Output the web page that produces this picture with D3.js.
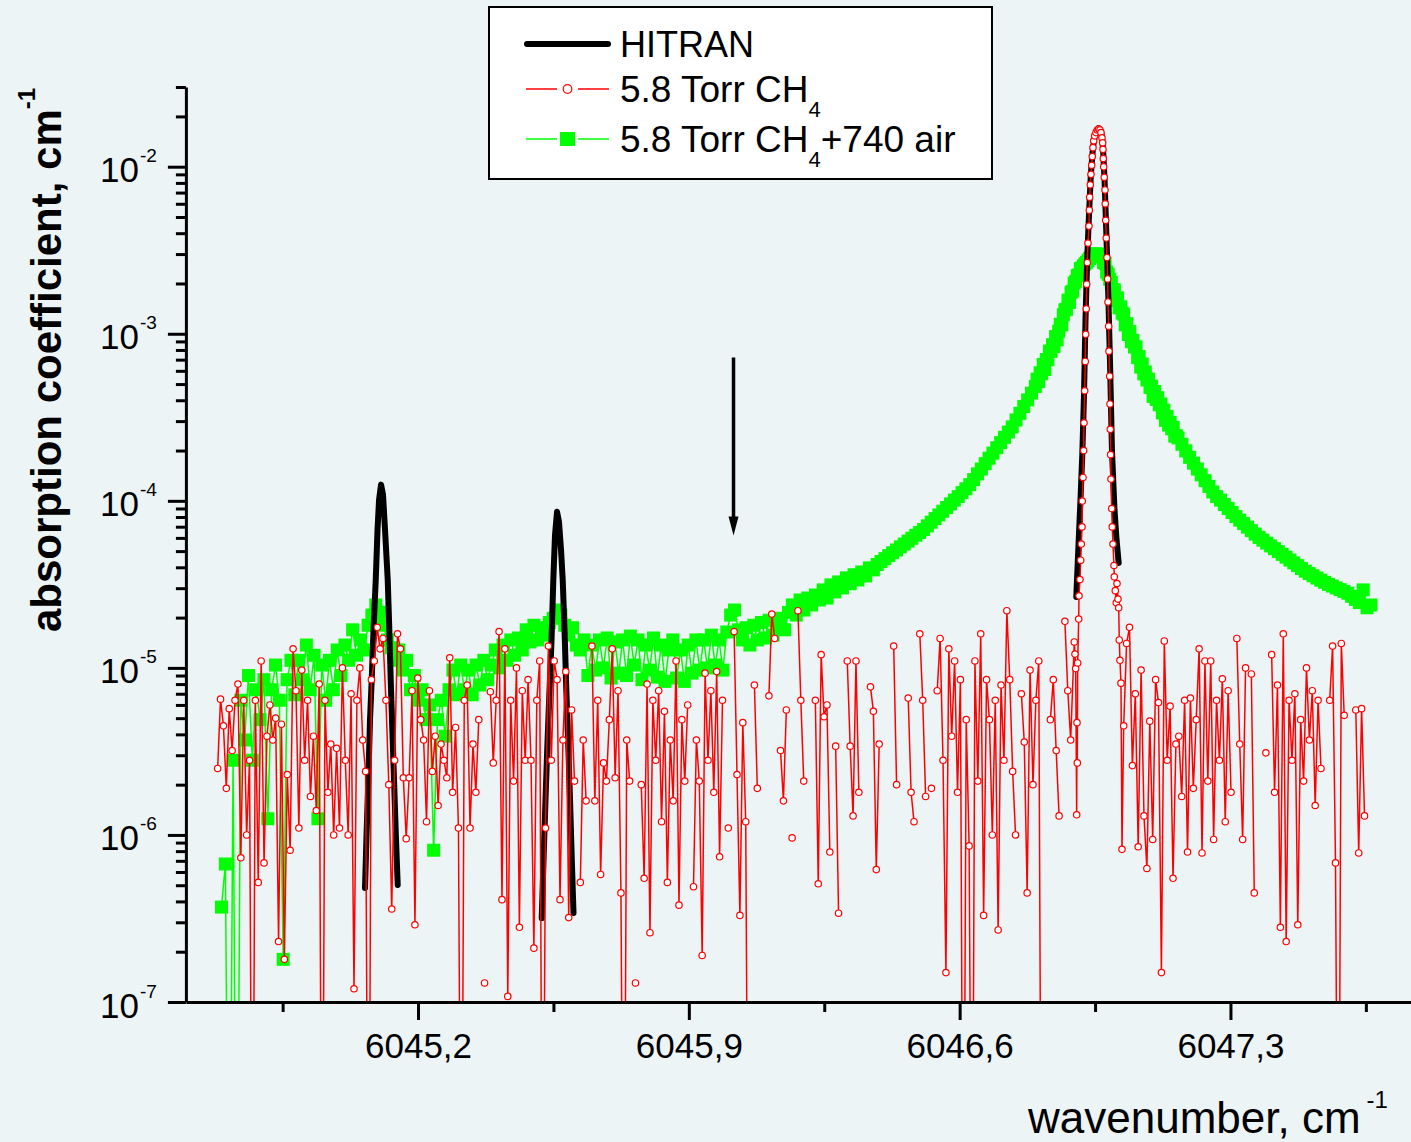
<!DOCTYPE html>
<html>
<head>
<meta charset="utf-8">
<script src="https://cdn.jsdelivr.net/npm/d3@7"></script>
<style>
  body { margin: 0; background: #ECF4F6; }
  svg { display: block; font-family: Arial, "Liberation Sans", sans-serif; }
</style>
</head>
<body>
<svg id="chart" width="1411" height="1142"></svg>
<script>
// ---------- axis ticks ----------
const xMajorTicks = [6045.2, 6045.9, 6046.6, 6047.3];
const xMinorTicks = [6044.85, 6045.55, 6046.25, 6046.95, 6047.65];
const yDecades = [1e-7, 1e-6, 1e-5, 1e-4, 1e-3, 1e-2];
const yMantissas = [2, 3, 4, 5, 6, 7, 8, 9];

// ---------- 5.8 Torr CH4 (red), measured on a fixed grid, null = negative value ----------
const redStart = 6044.682, redStep = 0.0075;
const redLeft = [
  2.5e-6, 6.5e-6, 4.5e-6, 1.9e-6, 5.7e-6, 3.2e-6, 6.4e-6, 8e-6, 7.3e-7, 6.4e-6, 1e-6, 2.8e-6, 1e-9, 6.4e-6, 5.2e-7, 1.1e-5, 6.8e-7, 3.9e-6, 6e-6, 3.7e-6,
  5e-6, 2.3e-7, 4.6e-6, 1.8e-7, 2.3e-6, 8.1e-7, 1.3e-5, 7.3e-6, 1.1e-6, 9.7e-6, 2.8e-6, 6.4e-6, 1.7e-6, 3.9e-6, 1.4e-6, 8e-6, 1e-9, 6.4e-6, 1.8e-6, 3.5e-6,
  1e-6, 3.3e-6, 1.1e-6, 1e-5, 2.8e-6, 1e-6, 7e-6, 1.2e-7, 6.4e-6, 1e-5, 3.7e-6, 2.4e-6, 1e-9, 8.5e-6, 1.1e-5, 1.75e-5, 1.3e-5, 1.5e-5, 6.4e-6, 2e-6,
  3.6e-7, 2.8e-6, 1.6e-5, 1.3e-5, 2.2e-6, 9.5e-7, 2.2e-6, 7.3e-6, 2.9e-7, 8.7e-6, 4.9e-6, 3.7e-6, 1.2e-6, 7.3e-6, 2.4e-6, 3.9e-6, 1.5e-6, 3.5e-6, 2.8e-6, 2.2e-6,
  1.15e-5, 1.8e-6, 4.4e-6, 1.1e-6, 1e-9, 6.4e-6, 7.9e-6, 1.1e-6, 3.5e-6, 1.8e-6, 4.9e-6, null, 1.3e-7, null, 7.2e-6, 2.7e-6, 6.4e-6, 1.65e-5, 4.1e-7, 1.3e-5,
  1.08e-7, 6.4e-6, 2.1e-6, 1e-5, 2.8e-7, 7.3e-6, 2.8e-6, 8.5e-6, 2.8e-6, 2.1e-7, 6.4e-6, 1.1e-5, 1e-9, 1.1e-6, 1.35e-5, 2.8e-6, 1.1e-5, 8.5e-6, 4.1e-7, 3.7e-6,
  9.5e-6, 3.2e-7, 5.6e-6, 2.1e-6, null, 5.2e-7, 3.7e-6, 1.6e-6, null, 1.35e-5, 1.6e-6, 6.4e-6, 5.8e-7, 2.7e-6, 2.1e-6, 4.9e-6, 1.3e-5, 2.2e-6, 7.3e-6, 4.5e-7,
  1e-9, 3.7e-6, 2.1e-6, null, 1.3e-7, null, 2e-6, 5.5e-7, 8e-6, 2.6e-7, 6.4e-6, 2.8e-6, 7.3e-6, 1.2e-6, 5.5e-6, 5.2e-7, 3.7e-6, 1.6e-6, 1.1e-5, 3.8e-7,
  4.9e-6, 2.1e-6, 6e-6, null, 4.9e-7, 3.7e-6, 2.1e-6, 1.9e-7, 9.3e-6, 2.8e-6, 7.3e-6, 1.8e-6, 9.5e-6, 7.4e-7, 6.4e-6, null, 1.1e-6, null, 1.65e-5, 2.3e-6,
  3.3e-7, 4.7e-6, 1.2e-6, 1e-9, null, 7.9e-6, 1.9e-6, null, null, null, 6.8e-6, 2.1e-5, 1.5e-5, null, 3.2e-6, 1.6e-6, 5.6e-6, null, 9.6e-7, null,
  2.2e-5, 6.4e-6, 2.1e-6, null, null, null, 6.4e-6, 5.1e-7, 1.2e-5, 5.1e-6, 6e-6, 7.9e-7, null, 3.4e-6, 3.4e-7, null, null, 1.1e-5, 3.4e-6, 1.3e-6,
  1.1e-5, 1.8e-6, null, null, null, 7.7e-6, 5.5e-6, 6.2e-7, 3.5e-6, null, null, null, null, 1.35e-5, 2e-6, null, null, null, 6.6e-6, 1.8e-6,
  1.2e-6, null, 1.6e-5, 6.4e-6, 1.7e-6, null, 1.9e-6, null, 7.3e-6, 1.5e-5, 2.8e-6, 1.5e-7, 1.3e-5, 3.9e-6, 1.1e-5, 1.8e-6, 8.5e-6, 1e-9, 4.9e-6, 8.6e-7,
  1e-9, 1.1e-5, 2.1e-6, 1.6e-5, 3.3e-7, 8.5e-6, 4.9e-6, 1e-6, 6.4e-6, 2.7e-7, 7.9e-6, 2.8e-6, 2.2e-5, 8.5e-6, 2.4e-6, 1e-6, null, 7e-6, 3.6e-6, 4.5e-7,
  9.7e-6, 2e-6, 6.4e-6, 1.1e-5, 1e-9, null, null, 4.9e-6, 8.5e-6, 3.2e-6, 1.3e-6, null, 1.9e-5, 7.3e-6, 3.7e-6
];
// the strong line, read point by point
const redPeak = [
  [6046.8963, 1.43e-5], [6046.8981, 1.21e-5], [6046.8999, 9.9e-6], [6046.9025, 1.32e-6], [6046.9033, 4.7e-6],
  [6046.9041, 2.7e-6], [6046.9051, 1.07e-5], [6046.9077, 1.96e-5], [6046.9085, 2.7e-5], [6046.9110, 3.38e-5],
  [6046.9129, 4.41e-5], [6046.9144, 5.51e-5], [6046.9162, 6.98e-5], [6046.9170, 9.97e-5], [6046.9188, 1.38e-4],
  [6046.9206, 2.0e-4], [6046.9214, 2.93e-4], [6046.9232, 4.56e-4], [6046.9247, 6.83e-4], [6046.9258, 9.93e-4],
  [6046.9273, 1.41e-3], [6046.9284, 1.98e-3], [6046.9299, 2.67e-3], [6046.9317, 3.49e-3], [6046.9343, 4.41e-3],
  [6046.9351, 5.49e-3], [6046.9361, 6.57e-3], [6046.9377, 7.79e-3], [6046.9395, 9.0e-3], [6046.9413, 1.02e-2],
  [6046.9428, 1.15e-2], [6046.9446, 1.30e-2], [6046.9465, 1.43e-2], [6046.9490, 1.53e-2], [6046.9524, 1.60e-2],
  [6046.9558, 1.66e-2], [6046.9594, 1.68e-2], [6046.9627, 1.66e-2], [6046.9653, 1.60e-2], [6046.9679, 1.49e-2],
  [6046.9697, 1.39e-2], [6046.9705, 1.27e-2], [6046.9713, 1.12e-2], [6046.9723, 9.98e-3], [6046.9738, 8.65e-3],
  [6046.9757, 7.26e-3], [6046.9764, 6.0e-3], [6046.9775, 4.78e-3], [6046.9790, 3.74e-3], [6046.9808, 2.86e-3],
  [6046.9826, 2.13e-3], [6046.9834, 1.55e-3], [6046.9852, 1.11e-3], [6046.9860, 7.87e-4], [6046.9878, 5.57e-4],
  [6046.9886, 3.8e-4], [6046.9894, 2.68e-4], [6046.9904, 1.89e-4], [6046.9912, 1.35e-4], [6046.9930, 8.99e-5],
  [6046.9945, 6.98e-5], [6046.9963, 5.51e-5], [6046.9989, 4.1e-5], [6046.9997, 3.51e-5], [6047.0023, 2.9e-5],
  [6047.0049, 2.45e-5], [6047.0067, 3.2e-5], [6047.0093, 2.58e-5], [6047.0111, 2.29e-5], [6047.0126, 1.47e-5],
  [6047.0144, 1.11e-5], [6047.0170, 8.1e-6], [6047.0196, 8.2e-7]
];
const redRightStart = 6047.024;
const redRight = [
  4.5e-6, 1.4e-5, 1.75e-5, 2.6e-6, 7e-6, 8.5e-7, 9.7e-6, 1.3e-6, 6.3e-7, 4.8e-6,
  9.4e-7, 8.5e-6, 6.2e-6, 1.5e-7, 1.45e-5, 2.8e-6, 5.9e-6, 5.5e-7, 3.5e-6, 3.9e-6,
  1.7e-6, 6.4e-6, 7.9e-7, 6.6e-6, 1.9e-6, 4.9e-6, 1.3e-5, 7.8e-7, 1.1e-5, 2.1e-6,
  1.1e-5, 9.4e-7, 6.4e-6, 2.8e-6, 8.6e-6, 1.2e-6, 7.3e-6, 1.8e-6, null, 1.5e-5,
  3.5e-6, 9.4e-7, 1e-5, null, 9.2e-6, 4.5e-7, null, null, null, 3.1e-6,
  null, 1.2e-5, 1.8e-6, 7.9e-6, 2.8e-7, 1.6e-5, 2.3e-7, 6.4e-6, 2.8e-6, 7e-6,
  2.9e-7, 4.9e-6, 2.1e-6, 1e-5, 3.7e-6, 7.3e-6, 1.5e-6, 6.4e-6, 2.5e-6, null,
  null, 6.4e-6, 1.35e-5, 6.8e-7, 1e-9, 1.4e-5, 5.2e-6, null, null, null,
  5.6e-6, 7.8e-7, 5.7e-6, 1.3e-6
];

// ---------- 5.8 Torr CH4 + 740 air (green) ----------
const greenStart = 6044.692, greenStep = 0.00997;
const green = [
  3.7e-7, 6.7e-7, 1e-9, 2.8e-6, 1e-9, 6.4e-6, 3.7e-6, 9.0e-6, 2.8e-6, 7.4e-6,
  4.9e-6, 8.5e-6, 1.25e-6, 7.4e-6, 1.04e-5, 6.4e-6, 1.8e-7, 8.5e-6, 1.11e-5, 6.9e-6,
  1.11e-5, 8.5e-6, 1.37e-5, 7.4e-6, 1.19e-5, 1.25e-6, 1.04e-5, 6.4e-6, 1.11e-5, 7.4e-6,
  1.28e-5, 9.0e-6, 1.37e-5, 1.11e-5, 1.69e-5, 1.19e-5, 1.47e-5, 1.28e-5, 1.80e-5, 2.07e-5,
  2.38e-5, 2.15e-5, 1.80e-5, 1.47e-5, 1.32e-5, 1.11e-5, 1.28e-5, 9.7e-6, 1.11e-5, 7.4e-6,
  9.0e-6, 6.4e-6, 7.4e-6, 4.9e-6, 6.0e-6, 8.1e-7, 4.9e-6, 6.4e-6, 3.9e-6, 7.4e-6,
  9.7e-6, 6.9e-6, 1.04e-5, 7.4e-6, 9.7e-6, 6.9e-6, 1.04e-5, 7.9e-6, 1.11e-5, 8.5e-6,
  1.04e-5, 1.28e-5, 1.0e-5, 1.37e-5, 1.11e-5, 1.47e-5, 1.19e-5, 1.51e-5, 1.28e-5, 1.69e-5,
  1.43e-5, 1.80e-5, 1.47e-5, 1.74e-5, 1.57e-5, 1.87e-5, 1.98e-5, 2.22e-5, 2.07e-5, 1.80e-5,
  1.57e-5, 1.74e-5, 1.37e-5, 1.28e-5, 1.47e-5, 9.0e-6, 1.37e-5, 9.7e-6, 1.47e-5, 1.0e-5,
  1.51e-5, 8.7e-6, 1.43e-5, 9.3e-6, 1.47e-5, 9.0e-6, 1.55e-5, 1.04e-5, 1.47e-5, 8.5e-6,
  1.37e-5, 9.7e-6, 1.51e-5, 8.8e-6, 1.37e-5, 8.3e-6, 1.28e-5, 1.47e-5, 8.7e-6, 1.28e-5,
  8.3e-6, 1.37e-5, 9.3e-6, 1.47e-5, 9.7e-6, 1.47e-5, 1.0e-5, 1.57e-5, 1.04e-5, 1.47e-5,
  9.7e-6, 1.64e-5, 2.07e-5, 2.22e-5, 1.69e-5, 1.47e-5, 1.74e-5, 1.37e-5, 1.80e-5, 1.47e-5,
  1.87e-5, 1.51e-5, 1.93e-5, 1.57e-5, 1.80e-5, 1.98e-5, 1.69e-5, 2.15e-5, 2.38e-5, 2.07e-5,
  2.55e-5, 2.22e-5, 2.62e-5, 2.38e-5, 2.73e-5, 2.55e-5, 2.93e-5, 2.62e-5, 3.14e-5, 2.85e-5,
  3.27e-5, 3.01e-5, 3.46e-5, 3.19e-5, 3.61e-5, 3.36e-5, 3.75e-5, 3.55e-5, 3.97e-5, 3.86e-5,
  4.16e-5, 4.33e-5, 4.51e-5, 4.70e-5, 4.89e-5, 5.08e-5, 5.30e-5, 5.51e-5, 5.74e-5, 5.97e-5,
  6.22e-5, 6.47e-5, 6.73e-5, 7.08e-5, 7.45e-5, 7.83e-5, 8.24e-5, 8.67e-5, 9.12e-5, 9.59e-5,
  1.01e-4, 1.06e-4, 1.12e-4, 1.18e-4, 1.25e-4, 1.34e-4, 1.45e-4, 1.55e-4, 1.67e-4, 1.80e-4,
  1.93e-4, 2.08e-4, 2.23e-4, 2.40e-4, 2.58e-4, 2.77e-4, 3.05e-4, 3.34e-4, 3.67e-4, 4.02e-4,
  4.41e-4, 4.84e-4, 5.46e-4, 6.16e-4, 6.94e-4, 7.85e-4, 8.83e-4, 1.01e-3, 1.20e-3, 1.41e-3,
  1.66e-3, 1.91e-3, 2.21e-3, 2.47e-3, 2.63e-3, 2.79e-3, 2.97e-3, 3.01e-3, 2.93e-3, 2.66e-3,
  2.22e-3, 1.92e-3, 1.67e-3, 1.45e-3, 1.25e-3, 1.08e-3, 9.33e-4, 8.17e-4, 7.09e-4, 6.16e-4,
  5.38e-4, 4.83e-4, 4.35e-4, 3.90e-4, 3.52e-4, 3.16e-4, 2.85e-4, 2.60e-4, 2.38e-4, 2.18e-4,
  1.99e-4, 1.82e-4, 1.68e-4, 1.55e-4, 1.43e-4, 1.32e-4, 1.22e-4, 1.13e-4, 1.06e-4, 1.01e-4,
  9.50e-5, 8.99e-5, 8.51e-5, 8.05e-5, 7.66e-5, 7.31e-5, 6.96e-5, 6.63e-5, 6.32e-5, 6.04e-5,
  5.81e-5, 5.58e-5, 5.37e-5, 5.17e-5, 4.97e-5, 4.78e-5, 4.60e-5, 4.42e-5, 4.25e-5, 4.09e-5,
  3.93e-5, 3.79e-5, 3.67e-5, 3.56e-5, 3.45e-5, 3.35e-5, 3.25e-5, 3.16e-5, 3.09e-5, 3.01e-5,
  2.94e-5, 2.87e-5, 2.80e-5, 2.68e-5, 2.57e-5, 2.46e-5, 2.93e-5, 2.29e-5, 2.38e-5
];
// finer sampling across the broadened line
const greenDenseStart = 6046.80, greenDenseStep = 0.004;
const greenDense = [
  5.35e-4, 5.17e-4, 5.84e-4, 5.76e-4, 6.55e-4, 6.11e-4, 7.01e-4, 6.99e-4, 7.88e-4, 7.84e-4,
  8.60e-4, 8.40e-4, 9.62e-4, 9.21e-4, 1.035e-3, 1.14e-3, 1.13e-3, 1.30e-3, 1.39e-3, 1.40e-3,
  1.59e-3, 1.54e-3, 1.77e-3, 1.80e-3, 2.01e-3, 2.06e-3, 2.23e-3, 2.25e-3, 2.45e-3, 2.48e-3,
  2.55e-3, 2.62e-3, 2.68e-3, 2.75e-3, 2.82e-3, 2.89e-3, 2.96e-3, 2.99e-3, 3.01e-3, 3.00e-3,
  2.97e-3, 2.91e-3, 2.89e-3, 2.67e-3, 2.64e-3, 2.34e-3, 2.27e-3, 2.12e-3, 2.03e-3, 1.84e-3,
  1.83e-3, 1.58e-3, 1.64e-3, 1.43e-3, 1.45e-3, 1.33e-3, 1.31e-3, 1.13e-3, 1.15e-3, 9.9e-4,
  1.03e-3, 8.96e-4, 9.13e-4, 8.34e-4, 8.33e-4, 7.19e-4, 7.30e-4, 6.32e-4, 6.59e-4, 5.75e-4,
  5.90e-4, 5.29e-4, 5.35e-4, 4.77e-4, 4.86e-4, 4.22e-4, 4.51e-4, 4.04e-4, 4.14e-4, 3.76e-4,
  3.80e-4, 3.36e-4, 3.49e-4, 3.03e-4, 3.20e-4, 2.84e-4, 2.95e-4, 2.70e-4, 2.75e-4, 2.44e-4,
  2.45e-4
];

// ---------- HITRAN line profiles ----------
const hitran1 = [
  [6045.0630, 4.82e-7], [6045.0669, 1.0e-6], [6045.0715, 2.13e-6], [6045.0759, 4.89e-6], [6045.0803, 8.48e-6],
  [6045.0850, 1.69e-5], [6045.0907, 3.36e-5], [6045.0953, 6.7e-5], [6045.0992, 1.01e-4], [6045.1044, 1.25e-4],
  [6045.1095, 1.09e-4], [6045.1147, 6.7e-5], [6045.1217, 3.36e-5], [6045.1258, 1.69e-5], [6045.1294, 8.48e-6],
  [6045.1336, 4.26e-6], [6045.1380, 2.13e-6], [6045.1426, 1.0e-6], [6045.1475, 5.02e-7]
];
const hitran2 = [
  [6045.5197, 3.18e-7], [6045.5244, 7.08e-7], [6045.5295, 1.62e-6], [6045.5342, 3.37e-6], [6045.5399, 7.39e-6],
  [6045.5451, 1.47e-5], [6045.5497, 3.36e-5], [6045.5541, 6.25e-5], [6045.5593, 8.59e-5], [6045.5644, 7.48e-5],
  [6045.5696, 5.09e-5], [6045.5740, 3.36e-5], [6045.5787, 1.69e-5], [6045.5833, 7.39e-6], [6045.5885, 3.37e-6],
  [6045.5929, 1.62e-6], [6045.5975, 7.08e-7], [6045.6019, 3.41e-7]
];
const hitran3 = [
  [6046.9015, 2.66e-5], [6046.9072, 5.45e-5], [6046.9123, 1.01e-4], [6046.9170, 1.89e-4], [6046.9214, 4.3e-4],
  [6046.9253, 1.21e-3], [6046.9296, 2.77e-3], [6046.9338, 4.8e-3], [6046.9390, 8.9e-3], [6046.9446, 1.30e-2],
  [6046.9498, 1.56e-2], [6046.9589, 1.70e-2], [6046.9666, 1.59e-2], [6046.9705, 1.30e-2], [6046.9746, 8.3e-3],
  [6046.9790, 4.1e-3], [6046.9842, 1.71e-3], [6046.9891, 6.1e-4], [6046.9937, 2.0e-4], [6047.0002, 8.9e-5],
  [6047.0054, 5.9e-5], [6047.0111, 4.25e-5]
];

// ---------- arrow annotation ----------
const arrowX = 6046.0155, arrowTop = 7.2e-4, arrowTip = 6.2e-5;

// ---------- build ----------
const redSeries = redLeft.map((v, i) => [redStart + i * redStep, v])
  .concat(redPeak)
  .concat(redRight.map((v, i) => [redRightStart + i * redStep, v]));

const denseEnd = greenDenseStart + (greenDense.length - 1) * greenDenseStep;
const greenSeries = green.map((v, i) => [greenStart + i * greenStep, v])
  .filter(d => d[0] < greenDenseStart - 0.002 || d[0] > denseEnd + 0.002)
  .concat(greenDense.map((v, i) => [greenDenseStart + i * greenDenseStep, v]))
  .sort((a, b) => a[0] - b[0]);

const yMinorTicks = [];
yDecades.forEach(d => yMantissas.forEach(m => { if (d * m <= 3.0001e-2) yMinorTicks.push(d * m); }));

const svg = d3.select("#chart");
const x = d3.scaleLinear().domain([6044.6, 6047.8]).range([185.9, 1423.9]);
const y = d3.scaleLog().domain([1e-7, 3e-2]).range([1002, 87]);

svg.append("defs").append("clipPath").attr("id", "plot")
  .append("rect").attr("x", 186).attr("y", 60).attr("width", 1300).attr("height", 942);

const line = d3.line().defined(d => d[1] != null).x(d => x(d[0])).y(d => y(d[1]));
const plot = svg.append("g").attr("clip-path", "url(#plot)");

// green
const sq = 13;
plot.append("path").datum(greenSeries).attr("d", line)
  .attr("fill", "none").attr("stroke", "#00FF00").attr("stroke-width", 1.5);
plot.append("g").selectAll("rect").data(greenSeries.filter(d => d[1] != null)).join("rect")
  .attr("x", d => x(d[0]) - sq / 2).attr("y", d => y(d[1]) - sq / 2)
  .attr("width", sq).attr("height", sq).attr("fill", "#00FF00");

// HITRAN
[hitran1, hitran2, hitran3].forEach(h => {
  plot.append("path").datum(h).attr("d", line)
    .attr("fill", "none").attr("stroke", "#000").attr("stroke-width", 6)
    .attr("stroke-linejoin", "round").attr("stroke-linecap", "round");
});

// red
plot.append("path").datum(redSeries).attr("d", line)
  .attr("fill", "none").attr("stroke", "#FF0000").attr("stroke-width", 1.5);
plot.append("g").selectAll("circle").data(redSeries.filter(d => d[1] != null)).join("circle")
  .attr("cx", d => x(d[0])).attr("cy", d => y(d[1])).attr("r", 3.2)
  .attr("fill", "#fff").attr("stroke", "#FF0000").attr("stroke-width", 1.2);

// ---------- axes ----------
function styleAxis(g) {
  g.select(".domain").attr("stroke", "#000").attr("stroke-width", 3);
  g.selectAll(".tick line").attr("stroke", "#000").attr("stroke-width", 3);
}

const xAxisG = svg.append("g").attr("transform", "translate(0,1002)")
  .call(d3.axisBottom(x).tickValues(xMajorTicks).tickSize(18).tickSizeOuter(0)
    .tickFormat(d => d.toFixed(1).replace(".", ",")));
styleAxis(xAxisG);
xAxisG.selectAll(".tick text").attr("y", 56).attr("dy", null)
  .attr("font-size", 35).attr("fill", "#000").attr("font-family", "Arial, 'Liberation Sans', sans-serif");
const xMinorG = svg.append("g").attr("transform", "translate(0,1002)")
  .call(d3.axisBottom(x).tickValues(xMinorTicks).tickSize(10).tickFormat(""));
styleAxis(xMinorG);
xMinorG.select(".domain").remove();

const y0 = x.range()[0];
const yAxisG = svg.append("g").attr("transform", `translate(${y0},0)`)
  .call(d3.axisLeft(y).tickValues(yDecades).tickSize(18).tickSizeOuter(0).tickFormat(""));
styleAxis(yAxisG);
yAxisG.selectAll(".tick text").remove();
yAxisG.selectAll(".tick").each(function(d) {
  const t = d3.select(this);
  t.append("text").attr("x", -47).attr("y", 15).attr("text-anchor", "end")
    .attr("font-size", 35).attr("fill", "#000").text("10");
  t.append("text").attr("x", -46).attr("y", -5).attr("text-anchor", "start")
    .attr("font-size", 19).attr("fill", "#000").text(Math.round(Math.log10(d)));
});
const yMinorG = svg.append("g").attr("transform", `translate(${y0},0)`)
  .call(d3.axisLeft(y).tickValues(yMinorTicks).tickSize(10).tickFormat(""));
styleAxis(yMinorG);
yMinorG.select(".domain").remove();

// axis titles
const yTitle = svg.append("text").attr("transform", "translate(61,632) rotate(-90)")
  .attr("font-size", 42).attr("font-weight", "bold").attr("fill", "#000");
yTitle.append("tspan").text("absorption coefficient, cm");
yTitle.append("tspan").attr("dy", -26).attr("font-size", 24).text("-1");

const xTitle = svg.append("text").attr("x", 1028).attr("y", 1133)
  .attr("font-size", 44).attr("fill", "#000");
xTitle.append("tspan").text("wavenumber, cm");
xTitle.append("tspan").attr("dx", 6).attr("dy", -25).attr("font-size", 24).text("-1");

// arrow
const ax = x(arrowX), ayTop = y(arrowTop), ayTip = y(arrowTip);
svg.append("line").attr("x1", ax).attr("x2", ax).attr("y1", ayTop).attr("y2", ayTip - 14)
  .attr("stroke", "#000").attr("stroke-width", 3.5);
svg.append("path").attr("d", `M${ax - 5},${ayTip - 19}L${ax + 5},${ayTip - 19}L${ax},${ayTip}Z`)
  .attr("fill", "#000");

// ---------- legend ----------
const lg = svg.append("g");
lg.append("rect").attr("x", 489).attr("y", 7).attr("width", 503).attr("height", 172)
  .attr("fill", "#fff").attr("stroke", "#000").attr("stroke-width", 2);

lg.append("line").attr("x1", 527).attr("x2", 608).attr("y1", 44).attr("y2", 44)
  .attr("stroke", "#000").attr("stroke-width", 6).attr("stroke-linecap", "round");
lg.append("text").attr("x", 620).attr("y", 57).attr("font-size", 36).text("HITRAN");

[[526, 557], [578, 609]].forEach(s => {
  lg.append("line").attr("x1", s[0]).attr("x2", s[1]).attr("y1", 89).attr("y2", 89)
    .attr("stroke", "#FF0000").attr("stroke-width", 1.5);
  lg.append("line").attr("x1", s[0]).attr("x2", s[1]).attr("y1", 139).attr("y2", 139)
    .attr("stroke", "#00FF00").attr("stroke-width", 1.5);
});
lg.append("circle").attr("cx", 567.5).attr("cy", 89).attr("r", 4.3)
  .attr("fill", "#fff").attr("stroke", "#FF0000").attr("stroke-width", 1.2);
lg.append("rect").attr("x", 560).attr("y", 132).attr("width", 15).attr("height", 14).attr("fill", "#00FF00");

const t2 = lg.append("text").attr("x", 620).attr("y", 102).attr("font-size", 37);
t2.append("tspan").text("5.8 Torr CH");
t2.append("tspan").attr("dy", 15).attr("font-size", 22).text("4");

const t3 = lg.append("text").attr("x", 620).attr("y", 152).attr("font-size", 37);
t3.append("tspan").text("5.8 Torr CH");
t3.append("tspan").attr("dy", 15).attr("font-size", 22).text("4");
t3.append("tspan").attr("dy", -15).text("+740 air");
</script>
</body>
</html>
